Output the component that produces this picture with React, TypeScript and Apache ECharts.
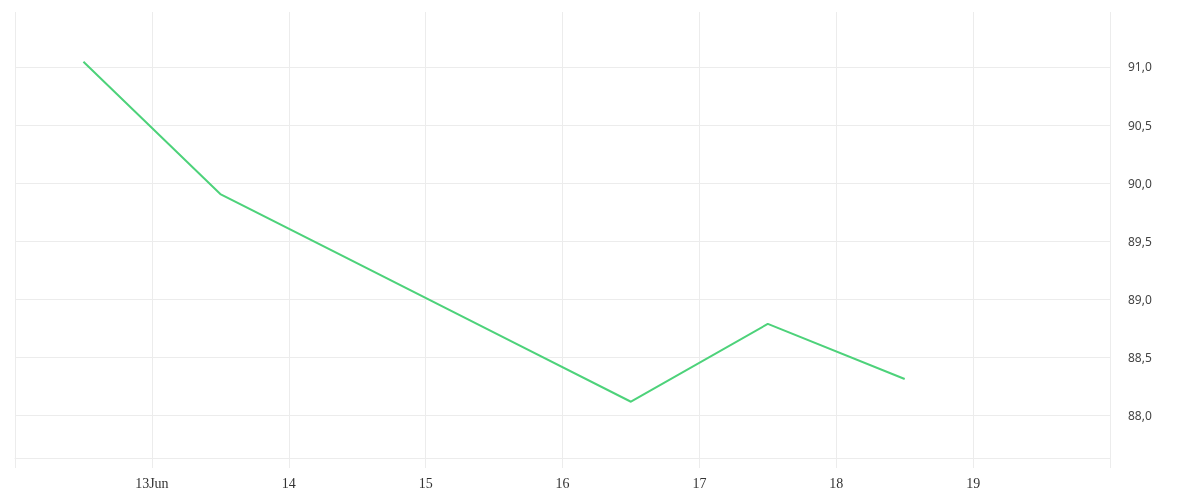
import React, { useEffect, useRef } from "react";
import * as echarts from "echarts";

const DAY = 86400000;
const dates = ["2024-06-12T12:00:00Z", "2024-06-13T12:00:00Z", "2024-06-16T12:00:00Z", "2024-06-17T12:00:00Z", "2024-06-18T12:00:00Z"];
const values = [91.045, 89.907, 88.12, 88.79, 88.316];
const xMin = "2024-06-12T00:00:00Z";
const xMax = "2024-06-20T00:00:00Z";
const yMin = 87.636;
const yMax = 91.473;

export default function App() {
  const ref = useRef<HTMLDivElement>(null);
  useEffect(() => {
    const chart = echarts.init(ref.current!, null, { renderer: "svg" });
    const data = dates.map((d, i) => [Date.parse(d), values[i]]);
    const gridCol = "#ececec";
    chart.setOption({
      animation: false,
      grid: { left: 15, right: 90, top: 12, bottom: 42, containLabel: false },
      xAxis: {
        type: "value",
        min: Date.parse(xMin),
        max: Date.parse(xMax),
        interval: DAY,
        axisLine: { show: true, lineStyle: { color: gridCol, width: 1 } },
        axisTick: { show: true, length: 10, lineStyle: { color: gridCol } },
        splitLine: { show: true, lineStyle: { color: gridCol } },
        axisLabel: {
          margin: 18,
          color: "#333",
          fontFamily: "Liberation Serif",
          fontSize: 14,
          showMinLabel: true,
          showMaxLabel: true,
          formatter: (v: number) => {
            const d = new Date(v);
            if (v <= Date.parse(xMin) || v >= Date.parse(xMax)) return "";
            const day = d.getUTCDate();
            return day === 13 ? "13Jun" : String(day);
          },
        },
      },
      yAxis: {
        type: "value",
        position: "right",
        min: yMin,
        max: yMax,
        splitNumber: 7,
        axisLine: { show: false },
        axisTick: { show: false },
        splitLine: {
          show: true,
          lineStyle: {
            color: [gridCol, gridCol, gridCol, gridCol, gridCol, gridCol, gridCol, gridCol, "rgba(0,0,0,0)"],
          },
        },
        axisLabel: {
          margin: 18,
          color: "#444",
          fontFamily: "Noto Sans",
          fontSize: 12,
          padding: [4, 0, 0, 0],
          formatter: (v: number) => {
            const r = Math.round(v * 2) / 2;
            if (Math.abs(r - v) > 1e-6) return "";
            return r.toFixed(1).replace(".", ",");
          },
        },
      },
      series: [
        {
          type: "line",
          data,
          showSymbol: false,
          symbol: "none",
          lineStyle: { color: "#4dd27a", width: 2 },
        },
      ],
    });
    return () => chart.dispose();
  }, []);
  return <div ref={ref} style={{ position: "fixed", left: 0, top: 0, width: 1200, height: 500 }} />;
}
